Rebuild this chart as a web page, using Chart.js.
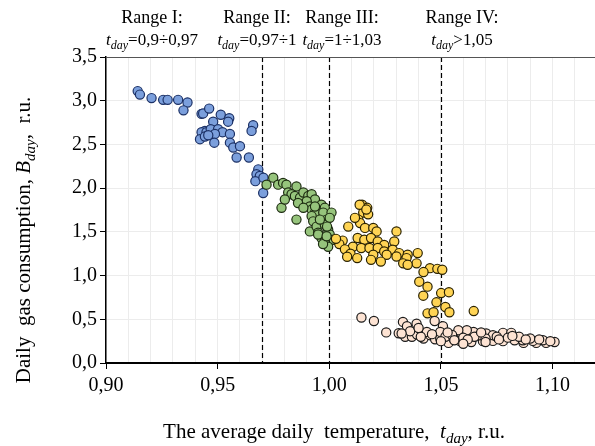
<!DOCTYPE html>
<html><head><meta charset="utf-8">
<script src="https://cdn.jsdelivr.net/npm/chart.js@4.4.1/dist/chart.umd.min.js"></script>
<style>html,body{margin:0;padding:0;background:#fff;overflow:hidden;}#wrap{width:595px;height:446px;position:relative;overflow:hidden;}</style>
</head><body><div id="wrap"><canvas id="c" width="601" height="446"></canvas></div>
<script>
// Range I (blue)
const rangeI_t = [0.9142,0.9152,0.9204,0.9256,0.9276,0.9323,0.9365,0.9347,0.9428,0.9435,0.9462,0.9514,0.9552,0.9547,0.9480,0.9443,0.9428,0.9450,0.9469,0.9502,0.9522,0.9555,0.9488,0.9421,0.9443,0.9458,0.9485,0.9555,0.9570,0.9600,0.9585,0.9640,0.9659,0.9652,0.9682,0.9674,0.9689,0.9669,0.9705,0.9704];
const rangeI_B = [3.11,3.07,3.03,3.01,3.01,3.01,2.98,2.89,2.85,2.855,2.91,2.84,2.80,2.76,2.76,2.655,2.64,2.64,2.675,2.675,2.64,2.62,2.62,2.56,2.59,2.605,2.52,2.52,2.465,2.48,2.35,2.35,2.72,2.655,2.215,2.16,2.14,2.08,2.12,1.945];
// Range II (green)
const rangeII_t = [0.9719,0.9749,0.9771,0.9793,0.9808,0.9853,0.9816,0.9831,0.9846,0.9869,0.9884,0.9906,0.9921,0.9936,0.9899,0.9860,0.9786,0.9801,0.9853,0.9913,0.9921,0.9936,0.9921,0.9928,0.9913,0.9943,0.9950,0.9965,0.9980,0.9973,0.9988,0.9980,0.9995,1.0002,1.0017,1.0010,1.0002,0.9958,0.9884,0.9936,0.9965,0.9980,0.9995,0.9972,0.9990,0.9950,0.9988];
const rangeII_B = [2.04,2.12,2.04,2.06,2.04,2.02,1.95,1.93,1.91,1.89,1.95,1.91,1.93,1.87,1.85,1.83,1.775,1.87,1.64,1.79,1.755,1.72,1.68,1.62,1.505,1.56,1.49,1.81,1.775,1.72,1.64,1.58,1.525,1.47,1.41,1.72,1.66,1.64,1.775,1.79,1.43,1.39,1.33,1.36,1.56,1.47,1.45];
// Range III (yellow)
const rangeIII_t = [1.0147,1.0170,1.0152,1.0174,1.0130,1.0138,1.0160,1.0197,1.0212,1.0301,1.0127,1.0157,1.0187,1.0217,1.0246,1.0291,1.0106,1.0143,1.0180,1.0217,1.0246,1.0284,1.0313,1.0351,1.0396,1.0197,1.0257,1.0301,1.0346,1.0187,1.0231,1.0331,1.0391,1.0451,1.0422,1.0484,1.0351,1.0506,1.0403,1.0440,1.0421,1.0501,1.0536,1.0480,1.0520,1.0538,1.0440,1.0467,1.0647,1.0136,1.0166,1.0115,1.0085,1.0060,1.0045,1.0030,1.0070,1.0095,1.0125,1.0080];
const rangeIII_B = [1.81,1.775,1.72,1.70,1.64,1.60,1.545,1.545,1.505,1.505,1.43,1.41,1.43,1.39,1.35,1.39,1.33,1.315,1.315,1.315,1.275,1.295,1.257,1.238,1.257,1.238,1.238,1.218,1.20,1.18,1.16,1.14,1.14,1.085,1.04,1.077,1.123,1.066,0.93,0.873,0.77,0.80,0.81,0.694,0.64,0.58,0.568,0.58,0.594,1.81,1.755,1.66,1.56,1.40,1.36,1.42,1.30,1.25,1.20,1.215];
// Range IV (peach)
const rangeIV_t = [1.0144,1.0200,1.0255,1.0311,1.0330,1.0348,1.0391,1.0472,1.0509,1.0340,1.0370,1.0393,1.0422,1.0452,1.0474,1.0497,1.0534,1.0556,1.0586,1.0616,1.0646,1.0586,1.0636,1.0688,1.0733,1.0778,1.0778,1.0815,1.0830,1.0870,1.0927,1.0971,1.1009,1.0867,1.0912,1.0957,1.0703,1.0733,1.0673,1.0616,1.0578,1.0497,1.0437,1.0362,1.0324,1.0520,1.0550,1.0600,1.0650,1.0700,1.0750,1.0800,1.0850,1.0900,1.0940,1.0990,1.0530,1.0560,1.0620,1.0680,1.0760,1.0820,1.0880,1.0410,1.0460,1.0500,1.0600,1.0700,1.0400];
const rangeIV_B = [0.52,0.48,0.35,0.34,0.47,0.42,0.45,0.48,0.42,0.30,0.30,0.326,0.28,0.318,0.272,0.28,0.23,0.28,0.356,0.338,0.356,0.25,0.24,0.25,0.253,0.25,0.345,0.345,0.26,0.23,0.23,0.23,0.24,0.26,0.253,0.26,0.338,0.318,0.318,0.376,0.376,0.356,0.356,0.364,0.338,0.30,0.32,0.29,0.30,0.28,0.30,0.29,0.30,0.28,0.27,0.25,0.35,0.26,0.27,0.35,0.27,0.31,0.27,0.30,0.33,0.25,0.22,0.24,0.40];

const dividers = [0.97, 1.00, 1.05];
const rangeTitles = ['Range I:', 'Range II:', 'Range III:', 'Range IV:'];
const rangeConds = ['=0,9÷0,97', '=0,97÷1', '=1÷1,03', '>1,05'];
const rangeCenters = [152, 257, 342, 462];
const xTickLabels = {0.90:'0,90', 0.95:'0,95', 1.00:'1,00', 1.05:'1,05', 1.10:'1,10'};

function pts(t, b){ return t.map((v,i)=>({x:v, y:b[i]})); }
const FONT = "'Liberation Serif', 'Times New Roman', serif";

function drawRich(ctx, parts, x, y, align, size){
  let w = 0;
  const fonts = parts.map(p => (p.i ? 'italic ' : '') + (p.sub ? Math.round(size*0.72) : size) + 'px ' + FONT);
  parts.forEach((p,k)=>{ ctx.font = fonts[k]; w += ctx.measureText(p.t).width; });
  let cx = align === 'center' ? x - w/2 : x;
  ctx.textAlign = 'left'; ctx.textBaseline = 'alphabetic';
  parts.forEach((p,k)=>{
    ctx.font = fonts[k];
    ctx.fillText(p.t, cx, y + (p.sub ? size*0.25 : 0));
    cx += ctx.measureText(p.t).width;
  });
}

const overlay = {
  id:'overlay',
  beforeDatasetsDraw(chart){
    const {ctx, chartArea:a, scales:{x}} = chart;
    ctx.save();
    ctx.strokeStyle = '#000'; ctx.lineWidth = 1.2; ctx.setLineDash([5,3]);
    dividers.forEach(d=>{
      const px = Math.round(x.getPixelForValue(d)) + 0.5;
      ctx.beginPath(); ctx.moveTo(px, a.top); ctx.lineTo(px, a.bottom); ctx.stroke();
    });
    ctx.setLineDash([]);
    ctx.strokeStyle = '#555'; ctx.lineWidth = 1;
    ctx.beginPath(); ctx.moveTo(a.left, Math.round(a.top)+0.5); ctx.lineTo(a.right, Math.round(a.top)+0.5); ctx.stroke();
    ctx.restore();
  },
  afterDraw(chart){
    const ctx = chart.ctx;
    ctx.save(); ctx.fillStyle = '#000';
    rangeTitles.forEach((r,i)=>{
      drawRich(ctx, [{t:r}], rangeCenters[i], 23, 'center', 18);
      drawRich(ctx, [{t:'t', i:true},{t:'day', i:true, sub:true},{t:rangeConds[i]}], rangeCenters[i], 45, 'center', 17);
    });
    drawRich(ctx, [{t:'The average daily  temperature,  '},{t:'t', i:true},{t:'day', i:true, sub:true},{t:', r.u.'}], 334, 438, 'center', 21);
    ctx.translate(30, 240); ctx.rotate(-Math.PI/2);
    drawRich(ctx, [{t:'Daily  gas consumption, '},{t:'B', i:true},{t:'day', i:true, sub:true},{t:',  r.u.'}], 0, 0, 'center', 21);
    ctx.restore();
  }
};

function ds(t,b,fill,border){
  return {data:pts(t,b), backgroundColor:fill, borderColor:border, borderWidth:1.2, pointRadius:4.6, pointHoverRadius:4.6};
}

new Chart(document.getElementById('c'), {
  type:'scatter',
  data:{datasets:[
    ds(rangeIV_t, rangeIV_B, '#fde3d3', '#1a1a1a'),
    ds(rangeIII_t, rangeIII_B, '#ffd454', '#2a2200'),
    ds(rangeII_t, rangeII_B, '#96c47c', '#1e2d12'),
    ds(rangeI_t, rangeI_B, '#7b9fdc', '#1c3166')
  ]},
  options:{
    responsive:false, animation:false, devicePixelRatio:1,
    layout:{padding:{left:0, right:0, top:57, bottom:0}},
    plugins:{legend:{display:false}, tooltip:{enabled:false}},
    scales:{
      x:{type:'linear', min:0.9, max:1.1191,
        afterFit(s){ s.height = 83; },
        afterBuildTicks(s){ const t=[]; for(let i=0;i<=21;i++) t.push({value:+(0.9+i*0.01).toFixed(2)}); s.ticks=t; },
        border:{color:'#000', width:2},
        grid:{color:'#ececec', lineWidth:1, tickLength:6,
          tickColor(c){ const v=c.tick? +c.tick.value.toFixed(2):0; return xTickLabels[v]!==undefined ? '#000' : 'rgba(0,0,0,0)'; }},
        ticks:{autoSkip:false, maxRotation:0, padding:5, color:'#000', font:{family:FONT, size:20},
          callback(v){ const k=+(+v).toFixed(2); return xTickLabels[k]!==undefined ? xTickLabels[k] : ''; }}
      },
      y:{type:'linear', min:0, max:3.5,
        afterFit(s){ s.width = 106; },
        border:{color:'#000', width:1.5},
        grid:{color:'#ececec', lineWidth:1, tickLength:6, tickColor:'#000'},
        ticks:{stepSize:0.5, padding:3, color:'#000', font:{family:FONT, size:20},
          callback(v){ return (+v).toFixed(1).replace('.', ','); }}
      }
    }
  },
  plugins:[overlay]
});
</script></body></html>
